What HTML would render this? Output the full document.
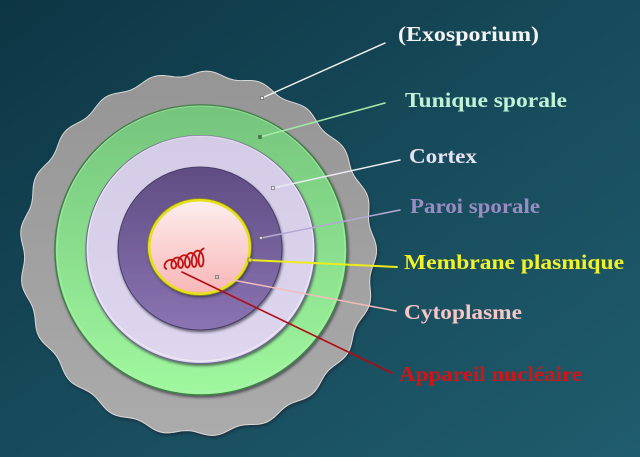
<!DOCTYPE html>
<html><head><meta charset="utf-8"><style>
html,body{margin:0;padding:0;width:640px;height:457px;overflow:hidden;background:#154858}
svg{display:block}
text{font-family:"Liberation Serif","DejaVu Serif",serif;font-weight:bold;font-size:21px}
</style></head><body>
<svg width="640" height="457" viewBox="0 0 640 457" xmlns="http://www.w3.org/2000/svg">
<defs>
<linearGradient id="bg" x1="0" y1="0" x2="1" y2="1">
<stop offset="0" stop-color="#0d3544"/><stop offset="0.5" stop-color="#174b5b"/><stop offset="1" stop-color="#1f5c6d"/>
</linearGradient>
<linearGradient id="gray" x1="0" y1="0" x2="0" y2="1">
<stop offset="0" stop-color="#959595"/><stop offset="1" stop-color="#ababab"/>
</linearGradient>
<linearGradient id="green" x1="0" y1="0" x2="0" y2="1">
<stop offset="0" stop-color="#74c47c"/><stop offset="1" stop-color="#a0f89e"/>
</linearGradient>
<linearGradient id="cortex" x1="0" y1="0" x2="0" y2="1">
<stop offset="0" stop-color="#d4cce6"/><stop offset="1" stop-color="#ddd6ee"/>
</linearGradient>
<linearGradient id="purple" x1="0" y1="0" x2="0" y2="1">
<stop offset="0" stop-color="#5f4d83"/><stop offset="1" stop-color="#8a74b2"/>
</linearGradient>
<linearGradient id="pink" x1="0" y1="0" x2="0" y2="1">
<stop offset="0" stop-color="#fdeeee"/><stop offset="1" stop-color="#f8b6b6"/>
</linearGradient>
<filter id="sh" x="-10%" y="-10%" width="120%" height="120%">
<feDropShadow dx="1" dy="2" stdDeviation="1.2" flood-color="#1a1a2a" flood-opacity="0.6"/>
</filter>
</defs>
<rect width="640" height="457" fill="url(#bg)"/>

<path id="wavy" fill="url(#gray)" stroke="#d8d8d8" stroke-width="1" filter="url(#sh)" d="M374,253 A176,180 0 1 1 374,252.9 Z"/>

<ellipse cx="201" cy="250" rx="146" ry="145" fill="url(#green)" stroke="#3f7f46" stroke-width="1.5" filter="url(#sh)"/>
<ellipse cx="201" cy="249" rx="144" ry="143" fill="none" stroke="#b8f0b8" stroke-width="1" opacity="0.6"/>
<ellipse cx="200.5" cy="249.5" rx="114.5" ry="114" fill="url(#cortex)" stroke="#6e6290" stroke-width="1" filter="url(#sh)"/>
<ellipse cx="200.5" cy="248.5" rx="113" ry="112.5" fill="none" stroke="#ffffff" stroke-width="1.2" opacity="0.5"/>
<ellipse cx="200" cy="248.5" rx="82" ry="81.5" fill="url(#purple)" stroke="#4a3c68" stroke-width="1" filter="url(#sh)"/>
<ellipse cx="199.5" cy="247" rx="50.5" ry="47" fill="url(#pink)" stroke="#e6e01c" stroke-width="3" filter="url(#sh)"/>
<ellipse cx="199.5" cy="247" rx="52" ry="48.5" fill="none" stroke="#8a8420" stroke-width="0.8"/>

<path id="squig" fill="none" stroke="#c41010" stroke-width="1.8" d="M166,263"/>

<g stroke-linecap="round">
<line x1="262" y1="98" x2="385" y2="43" stroke="#f2f2f2" stroke-width="1.5"/>
<line x1="260" y1="137" x2="385" y2="103" stroke="#a6e8a8" stroke-width="1.5"/>
<line x1="273" y1="188" x2="400" y2="160" stroke="#eaeaf2" stroke-width="1.5"/>
<line x1="261" y1="238" x2="400" y2="210" stroke="#b4aad4" stroke-width="1.5"/>
<line x1="250" y1="260" x2="397" y2="267" stroke="#ecec1c" stroke-width="2"/>
<line x1="217" y1="277" x2="396" y2="311" stroke="#f2bcbc" stroke-width="1.5"/>
<line x1="182" y1="272" x2="392" y2="373" stroke="#b40a14" stroke-width="1.6"/>
</g>
<g stroke="#555" stroke-width="0.6">
<rect x="260.5" y="96.5" width="3" height="3" fill="#eee"/>
<rect x="258.5" y="135.5" width="3" height="3" fill="#3a7a3a"/>
<rect x="271.5" y="186.5" width="3" height="3" fill="#eee"/>
<rect x="259.5" y="236.5" width="3" height="3" fill="#ddd"/>
<rect x="248" y="258" width="4" height="4" fill="#e8e020"/>
<rect x="215.5" y="275.5" width="3" height="3" fill="#ccc"/>
</g>

<text x="398" y="41" fill="#f4f4f4" textLength="141" lengthAdjust="spacingAndGlyphs">(Exosporium)</text>
<text x="405" y="107" fill="#bff2d6" textLength="162" lengthAdjust="spacingAndGlyphs">Tunique sporale</text>
<text x="409" y="163" fill="#e6e2f4" textLength="68" lengthAdjust="spacingAndGlyphs">Cortex</text>
<text x="410" y="213" fill="#9a8cc2" textLength="130" lengthAdjust="spacingAndGlyphs">Paroi sporale</text>
<text x="404" y="269" fill="#f2f224" textLength="220" lengthAdjust="spacingAndGlyphs">Membrane plasmique</text>
<text x="404" y="319" fill="#f8c6c6" textLength="118" lengthAdjust="spacingAndGlyphs">Cytoplasme</text>
<text x="399" y="381" fill="#d41414" textLength="183" lengthAdjust="spacingAndGlyphs">Appareil nucléaire</text>
</svg>
<script>
(function(){
  var cx=198, cy=253.5, rx=176, ry=180, n=21, A=2.6, pts=[];
  for(var i=0;i<=420;i++){
    var t=i/420*2*Math.PI;
    var r=1+A*Math.cos(n*t+0.4)/178;
    pts.push((cx+rx*r*Math.cos(t)).toFixed(2)+","+(cy+ry*r*Math.sin(t)).toFixed(2));
  }
  document.getElementById("wavy").setAttribute("d","M"+pts.join(" L")+" Z");
  var s=[];
  for(var j=0;j<=300;j++){
    var u=j/300*5.5;
    var x=167+6.8*u-4*Math.sin(2*Math.PI*u);
    var amp=4+0.9*u;
    var y=265-1.4*u+amp*Math.cos(2*Math.PI*u+Math.PI)*(-1);
    s.push(x.toFixed(2)+","+y.toFixed(2));
  }
  document.getElementById("squig").setAttribute("d","M"+s.join(" L"));
})();
</script>
</body></html>
